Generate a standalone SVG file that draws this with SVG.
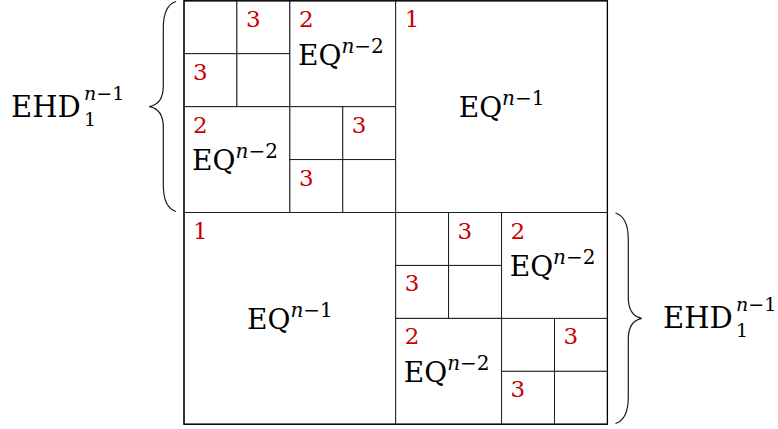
<svg xmlns="http://www.w3.org/2000/svg" width="778" height="429" viewBox="0 0 778 429">
<style>
  text { font-family: "DejaVu Serif", "Liberation Serif", "Times New Roman", serif; }
  .c { fill: #fff; stroke: #111; stroke-width: 0.9; }
  .o { fill: none; stroke: #000; stroke-width: 1.3; }
  .d { font-size: 23px; fill: #c80000; }
  .m { font-size: 28px; fill: #000; }
  .e { font-size: 29px; fill: #000; }
  .s { font-size: 20px; }
  .x { font-size: 19px; fill: #000; }
  .it { font-style: italic; }
  .br { fill: none; stroke: #1a1a1a; stroke-width: 1.2; }
</style>

<g id="q-tl">
  <rect class="c" x="184" y="0.8" width="52.9" height="52.9"/>
  <rect class="c" x="236.9" y="0.8" width="52.9" height="52.9"/>
  <rect class="c" x="184" y="53.7" width="52.9" height="52.9"/>
  <rect class="c" x="236.9" y="53.7" width="52.9" height="52.9"/>
  <text class="d" x="245.9" y="26.8">3</text>
  <text class="d" x="193" y="79.7">3</text>
</g>

<g id="q-tm">
  <rect class="c" x="289.9" y="0.8" width="105.8" height="105.9"/>
  <text class="d" x="298.9" y="26.8">2</text>
  <text class="m" x="298" y="64.5">EQ<tspan class="s" dy="-12"><tspan class="it">n</tspan>−2</tspan></text>
</g>

<g id="q-ml">
  <rect class="c" x="184" y="106.7" width="105.9" height="105.8"/>
  <text class="d" x="193" y="132.7">2</text>
  <text class="m" x="192.1" y="170.4">EQ<tspan class="s" dy="-12"><tspan class="it">n</tspan>−2</tspan></text>
</g>

<g id="q-mm">
  <rect class="c" x="289.9" y="106.7" width="52.9" height="52.9"/>
  <rect class="c" x="342.8" y="106.7" width="52.9" height="52.9"/>
  <rect class="c" x="289.9" y="159.6" width="52.9" height="52.9"/>
  <rect class="c" x="342.8" y="159.6" width="52.9" height="52.9"/>
  <text class="d" x="351.8" y="132.7">3</text>
  <text class="d" x="298.9" y="185.6">3</text>
</g>

<g id="h-tr">
  <rect class="c" x="395.7" y="0.8" width="211.7" height="211.7"/>
  <text class="d" x="404.7" y="26.8">1</text>
  <text class="m" x="501.6" y="117" text-anchor="middle">EQ<tspan class="s" dy="-12"><tspan class="it">n</tspan>−1</tspan></text>
</g>

<g id="h-bl">
  <rect class="c" x="184" y="212.5" width="211.7" height="211.7"/>
  <text class="d" x="193" y="238.5">1</text>
  <text class="m" x="289.9" y="329" text-anchor="middle">EQ<tspan class="s" dy="-12"><tspan class="it">n</tspan>−1</tspan></text>
</g>

<g id="q-br1">
  <rect class="c" x="395.7" y="212.5" width="52.9" height="52.9"/>
  <rect class="c" x="448.6" y="212.5" width="52.9" height="52.9"/>
  <rect class="c" x="395.7" y="265.4" width="52.9" height="52.9"/>
  <rect class="c" x="448.6" y="265.4" width="52.9" height="52.9"/>
  <text class="d" x="457.6" y="238.5">3</text>
  <text class="d" x="404.7" y="291.4">3</text>
</g>

<g id="q-br2">
  <rect class="c" x="501.6" y="212.5" width="105.8" height="105.9"/>
  <text class="d" x="510.6" y="238.5">2</text>
  <text class="m" x="509.7" y="276.2">EQ<tspan class="s" dy="-12"><tspan class="it">n</tspan>−2</tspan></text>
</g>

<g id="q-br3">
  <rect class="c" x="395.7" y="318.4" width="105.9" height="105.8"/>
  <text class="d" x="404.7" y="344.4">2</text>
  <text class="m" x="403.8" y="382.1">EQ<tspan class="s" dy="-12"><tspan class="it">n</tspan>−2</tspan></text>
</g>

<g id="q-br4">
  <rect class="c" x="501.6" y="318.4" width="52.9" height="52.9"/>
  <rect class="c" x="554.5" y="318.4" width="52.9" height="52.9"/>
  <rect class="c" x="501.6" y="371.3" width="52.9" height="52.9"/>
  <rect class="c" x="554.5" y="371.3" width="52.9" height="52.9"/>
  <text class="d" x="563.5" y="344.4">3</text>
  <text class="d" x="510.6" y="397.3">3</text>
</g>

<rect id="border" class="o" x="184" y="0.8" width="423.4" height="423.4"/>

<g id="connectors">
  <path class="br" d="M176,1.5 C168,4 163.3,12 163.3,28 L163.3,86 C163.3,99 158,105 149.3,106.6 C158,108.2 163.3,114 163.3,127 L163.3,185 C163.3,201 168,209 176,211.5"/>
  <path class="br" d="M615.5,213 C623.5,215.5 628.3,223.5 628.3,239.5 L628.3,297.5 C628.3,310.5 633.5,316.7 641.7,318.3 C633.5,320 628.3,326 628.3,339 L628.3,397 C628.3,413 623.5,421 615.5,423.5"/>
</g>

<g id="label-left">
  <text class="e" x="11" y="117.3">EHD</text>
  <text class="x" x="84" y="100"><tspan class="it">n</tspan>−1</text>
  <text class="x" x="84" y="125.5">1</text>
</g>

<g id="label-right">
  <text class="e" x="663" y="328.3">EHD</text>
  <text class="x" x="736" y="311"><tspan class="it">n</tspan>−1</text>
  <text class="x" x="736" y="336.5">1</text>
</g>
</svg>
